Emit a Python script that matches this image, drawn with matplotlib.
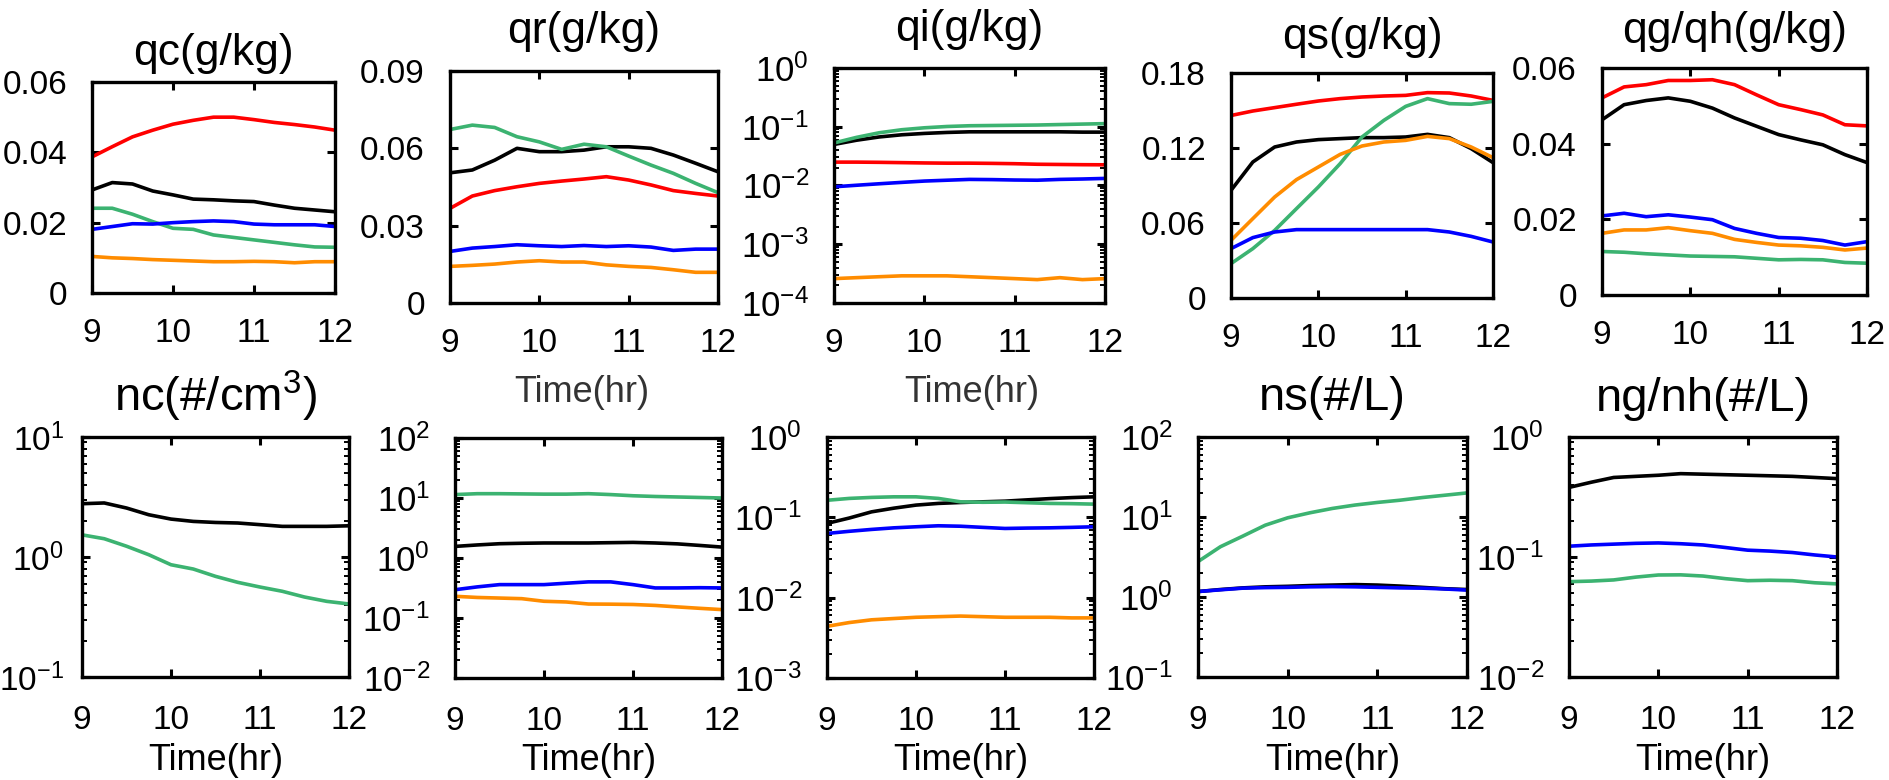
import matplotlib
matplotlib.use("Agg")
import matplotlib.pyplot as plt
from matplotlib.ticker import LogLocator, NullFormatter

plt.rcParams['font.family'] = ['Liberation Sans', 'DejaVu Sans']
plt.rcParams['mathtext.fontset'] = 'custom'
plt.rcParams['mathtext.rm'] = 'Liberation Sans'
plt.rcParams['mathtext.it'] = 'Liberation Sans:italic'
plt.rcParams['mathtext.bf'] = 'Liberation Sans:bold'
plt.rcParams['axes.unicode_minus'] = False

# ---------------- data ----------------
time_hr = [9.0, 9.25, 9.5, 9.75, 10.0, 10.25, 10.5, 10.75, 11.0, 11.25, 11.5, 11.75, 12.0]
x_ticks = [9, 10, 11, 12]

# qc (g/kg)
qc_black = [0.0293, 0.0314, 0.0310, 0.0290, 0.0279, 0.0267, 0.0265, 0.0262, 0.0260, 0.0250, 0.0241, 0.0236, 0.0231]
qc_red = [0.0387, 0.0416, 0.0444, 0.0463, 0.0480, 0.0491, 0.0500, 0.0500, 0.0493, 0.0485, 0.0479, 0.0472, 0.0463]
qc_green = [0.0241, 0.0241, 0.0224, 0.0203, 0.0184, 0.0181, 0.0165, 0.0158, 0.0151, 0.0144, 0.0137, 0.0131, 0.0130]
qc_blue = [0.0181, 0.0189, 0.0197, 0.0196, 0.0200, 0.0203, 0.0205, 0.0203, 0.0196, 0.0194, 0.0194, 0.0194, 0.0189]
qc_orange = [0.0104, 0.0100, 0.0098, 0.0095, 0.0093, 0.0091, 0.0089, 0.0089, 0.0090, 0.0089, 0.0086, 0.0089, 0.0089]

# qr (g/kg)
qr_black = [0.0505, 0.0516, 0.0554, 0.0600, 0.0587, 0.0587, 0.0593, 0.0606, 0.0606, 0.0600, 0.0574, 0.0542, 0.0509]
qr_red = [0.0367, 0.0415, 0.0436, 0.0451, 0.0464, 0.0473, 0.0481, 0.0490, 0.0477, 0.0458, 0.0436, 0.0425, 0.0415]
qr_green = [0.0673, 0.0690, 0.0681, 0.0645, 0.0625, 0.0596, 0.0616, 0.0606, 0.0570, 0.0535, 0.0503, 0.0464, 0.0428]
qr_blue = [0.0200, 0.0213, 0.0219, 0.0226, 0.0222, 0.0219, 0.0223, 0.0219, 0.0222, 0.0217, 0.0204, 0.0209, 0.0209]
qr_orange = [0.0142, 0.0146, 0.0151, 0.0159, 0.0164, 0.0159, 0.0159, 0.0148, 0.0142, 0.0138, 0.0129, 0.0119, 0.0119]

# qi (g/kg)
qi_black = [0.050, 0.059, 0.067, 0.073, 0.077, 0.080, 0.082, 0.082, 0.082, 0.082, 0.082, 0.081, 0.081]
qi_red = [0.025, 0.025, 0.0248, 0.0245, 0.0242, 0.024, 0.024, 0.0238, 0.0235, 0.023, 0.0228, 0.0226, 0.0225]
qi_green = [0.053, 0.066, 0.079, 0.089, 0.096, 0.101, 0.104, 0.105, 0.106, 0.107, 0.109, 0.111, 0.113]
qi_blue = [0.0095, 0.0101, 0.0107, 0.0113, 0.0119, 0.0123, 0.0127, 0.0126, 0.0124, 0.0123, 0.0127, 0.0129, 0.0132]
qi_orange = [0.00026, 0.00027, 0.00028, 0.00029, 0.00029, 0.00029, 0.00028, 0.00027, 0.00026, 0.00025, 0.00027, 0.00025, 0.00026]

# qs (g/kg)
qs_black = [0.0861, 0.1088, 0.1208, 0.1248, 0.1267, 0.1275, 0.1283, 0.1283, 0.1288, 0.1309, 0.1283, 0.1195, 0.1083]
qs_red = [0.1460, 0.1496, 0.1523, 0.1550, 0.1576, 0.1595, 0.1608, 0.1616, 0.1621, 0.1643, 0.1640, 0.1616, 0.1581]
qs_green = [0.0275, 0.0395, 0.0541, 0.0715, 0.0888, 0.1075, 0.1288, 0.1421, 0.1533, 0.1595, 0.1555, 0.1550, 0.1573]
qs_blue = [0.0395, 0.0483, 0.0528, 0.0547, 0.0547, 0.0547, 0.0547, 0.0547, 0.0547, 0.0547, 0.0528, 0.0493, 0.0448]
qs_orange = [0.0461, 0.0635, 0.0808, 0.0947, 0.1048, 0.1149, 0.1216, 0.1248, 0.1261, 0.1293, 0.1275, 0.1208, 0.1123]

# qg/qh (g/kg)
qg_black = [0.0463, 0.0503, 0.0514, 0.0521, 0.0512, 0.0494, 0.0468, 0.0446, 0.0424, 0.0410, 0.0397, 0.0371, 0.0350]
qg_red = [0.0521, 0.0550, 0.0556, 0.0567, 0.0567, 0.0569, 0.0556, 0.0529, 0.0503, 0.0490, 0.0476, 0.0450, 0.0447]
qg_green = [0.0115, 0.0113, 0.0109, 0.0106, 0.0103, 0.0102, 0.0101, 0.0097, 0.0093, 0.0094, 0.0093, 0.0086, 0.0084]
qg_blue = [0.0209, 0.0216, 0.0207, 0.0212, 0.0206, 0.0199, 0.0176, 0.0163, 0.0152, 0.0150, 0.0144, 0.0132, 0.0141]
qg_orange = [0.0163, 0.0172, 0.0172, 0.0178, 0.0170, 0.0163, 0.0147, 0.0139, 0.0132, 0.0130, 0.0126, 0.0119, 0.0124]

# nc (#/cm3)
nc_black = [2.78, 2.82, 2.56, 2.25, 2.07, 1.98, 1.94, 1.92, 1.86, 1.80, 1.80, 1.80, 1.82]
nc_green = [1.53, 1.42, 1.23, 1.045, 0.862, 0.794, 0.69, 0.615, 0.562, 0.518, 0.464, 0.427, 0.406]

# nr (#/L)
nr_black = [1.56, 1.65, 1.73, 1.76, 1.78, 1.78, 1.78, 1.80, 1.82, 1.78, 1.72, 1.62, 1.52]
nr_green = [11.4, 11.8, 11.8, 11.7, 11.6, 11.6, 11.8, 11.4, 10.9, 10.6, 10.4, 10.2, 10.0]
nr_blue = [0.296, 0.33, 0.36, 0.36, 0.36, 0.38, 0.40, 0.40, 0.36, 0.317, 0.317, 0.32, 0.317]
nr_orange = [0.23, 0.22, 0.215, 0.21, 0.19, 0.185, 0.171, 0.17, 0.168, 0.162, 0.153, 0.145, 0.138]

# ni (#/L)
ni_black = [0.084, 0.098, 0.117, 0.130, 0.142, 0.149, 0.153, 0.156, 0.159, 0.165, 0.171, 0.176, 0.18]
ni_green = [0.163, 0.172, 0.177, 0.18, 0.18, 0.172, 0.156, 0.154, 0.155, 0.152, 0.149, 0.148, 0.146]
ni_blue = [0.063, 0.067, 0.0707, 0.074, 0.0763, 0.0785, 0.0775, 0.075, 0.0727, 0.0735, 0.074, 0.075, 0.0763]
ni_orange = [0.0044, 0.0049, 0.0053, 0.0055, 0.0057, 0.0058, 0.0059, 0.0058, 0.0057, 0.0057, 0.0057, 0.0056, 0.0056]

# ns (#/L)
ns_black = [1.17, 1.24, 1.30, 1.34, 1.36, 1.39, 1.41, 1.43, 1.41, 1.37, 1.32, 1.27, 1.24]
ns_green = [2.77, 4.25, 5.77, 7.9, 9.77, 11.3, 12.8, 14.1, 15.2, 16.2, 17.5, 18.7, 20.0]
ns_blue = [1.17, 1.23, 1.29, 1.31, 1.32, 1.34, 1.35, 1.34, 1.32, 1.30, 1.29, 1.26, 1.22]

# ng/nh (#/L)
ng_black = [0.38, 0.42, 0.46, 0.47, 0.48, 0.495, 0.49, 0.485, 0.48, 0.475, 0.47, 0.46, 0.45]
ng_green = [0.0623, 0.063, 0.0644, 0.068, 0.0708, 0.071, 0.0694, 0.066, 0.0635, 0.064, 0.0635, 0.061, 0.0597]
ng_blue = [0.123, 0.126, 0.128, 0.130, 0.131, 0.129, 0.126, 0.120, 0.114, 0.112, 0.109, 0.104, 0.100]

# titles
top_titles = ["qc(g/kg)", "qr(g/kg)", "qi(g/kg)", "qs(g/kg)", "qg/qh(g/kg)"]
bottom_titles = ["nc(#/cm$^{\\mathregular{3}}$)", "", "", "ns(#/L)", "ng/nh(#/L)"]
x_label = "Time(hr)"

lin_ticks = {
    0: [0, 0.02, 0.04, 0.06],
    1: [0, 0.03, 0.06, 0.09],
    3: [0, 0.06, 0.12, 0.18],
    4: [0, 0.02, 0.04, 0.06],
}
lin_labels = {
    0: ["0", "0.02", "0.04", "0.06"],
    1: ["0", "0.03", "0.06", "0.09"],
    3: ["0", "0.06", "0.12", "0.18"],
    4: ["0", "0.02", "0.04", "0.06"],
}

C = {'black': '#000000', 'red': '#ff0000', 'green': '#3cb371',
     'blue': '#0000ff', 'orange': '#ff8c00'}

# ---------------- figure ----------------
W, H = 1890, 780
fig = plt.figure(figsize=(W / 100, H / 100), dpi=100)


def add_ax(x0, y0, x1, y1):
    return fig.add_axes([x0 / W, 1 - y1 / H, (x1 - x0) / W, (y1 - y0) / H])


top_boxes = [(92, 82, 335, 293), (450, 71, 718, 303), (834, 68, 1105, 303),
             (1231, 73, 1493, 298), (1602, 68, 1867, 295)]
bot_boxes = [(82, 437, 349, 677), (455, 438, 722, 678), (827, 437, 1094, 678),
             (1198, 437, 1467, 677), (1569, 437, 1837, 677)]
top_title_y = [53, 32, 30, 38, 32]
bot_title_y = [396, 396, 396, 398, 399]

top_series = [
    [('black', qc_black), ('red', qc_red), ('green', qc_green), ('blue', qc_blue), ('orange', qc_orange)],
    [('black', qr_black), ('red', qr_red), ('green', qr_green), ('blue', qr_blue), ('orange', qr_orange)],
    [('black', qi_black), ('red', qi_red), ('green', qi_green), ('blue', qi_blue), ('orange', qi_orange)],
    [('black', qs_black), ('red', qs_red), ('green', qs_green), ('blue', qs_blue), ('orange', qs_orange)],
    [('black', qg_black), ('red', qg_red), ('green', qg_green), ('blue', qg_blue), ('orange', qg_orange)],
]
bot_series = [
    [('black', nc_black), ('green', nc_green)],
    [('black', nr_black), ('green', nr_green), ('blue', nr_blue), ('orange', nr_orange)],
    [('black', ni_black), ('green', ni_green), ('blue', ni_blue), ('orange', ni_orange)],
    [('black', ns_black), ('green', ns_green), ('blue', ns_blue)],
    [('black', ng_black), ('green', ng_green), ('blue', ng_blue)],
]
top_log = {2: (1e-4, 1e0)}
bot_lims = [(1e-1, 1e1), (1e-2, 1e2), (1e-3, 1e0), (1e-1, 1e2), (1e-2, 1e0)]


def style(ax, lsize):
    for s in ax.spines.values():
        s.set_linewidth(2.4)
    ax.set_xlim(9, 12)
    ax.set_xticks(x_ticks)
    ax.tick_params(which='major', direction='in', top=True, right=True,
                   length=6, width=2.2, labelsize=lsize, pad=18)
    ax.tick_params(which='minor', direction='in', top=False, right=True,
                   length=3.5, width=1.4)
    ax.tick_params(axis='x', which='minor', bottom=False, top=False)


def log_y(ax, lims):
    ax.set_yscale('log')
    ax.set_ylim(*lims)
    ax.yaxis.set_major_locator(LogLocator(base=10, numticks=10))
    ax.yaxis.set_minor_locator(LogLocator(base=10, subs=range(2, 10), numticks=20))
    ax.yaxis.set_minor_formatter(NullFormatter())


for i, box in enumerate(top_boxes):
    ax = add_ax(*box)
    for cname, vals in top_series[i]:
        ax.plot(time_hr, vals, color=C[cname], lw=2.6)
    style(ax, 24)
    if i in top_log:
        log_y(ax, top_log[i])
        ax.tick_params(axis='y', labelsize=25)
    else:
        ax.set_ylim(lin_ticks[i][0], lin_ticks[i][-1])
        ax.set_yticks(lin_ticks[i])
        ax.set_yticklabels(lin_labels[i])
    cx = (box[0] + box[2]) / 2
    fig.text(cx / W, 1 - top_title_y[i] / H, top_titles[i], ha='center', va='center', fontsize=32)

for i, box in enumerate(bot_boxes):
    ax = add_ax(*box)
    for cname, vals in bot_series[i]:
        ax.plot(time_hr, vals, color=C[cname], lw=2.6)
    style(ax, 24)
    log_y(ax, bot_lims[i])
    if i == 0:
        ax.tick_params(axis='y', labelsize=24, pad=13)
    else:
        ax.tick_params(axis='y', labelsize=25, pad=18)
    ax.tick_params(axis='x', pad=20)
    cx = (box[0] + box[2]) / 2
    if bottom_titles[i]:
        fig.text(cx / W, 1 - bot_title_y[i] / H, bottom_titles[i], ha='center', va='center', fontsize=34)
    fig.text(cx / W, 1 - 760 / H, x_label, ha='center', va='center', fontsize=26)

# leftover axis labels of the top row (partially hidden in the original)
fig.text(582 / W, 1 - 393 / H, x_label, ha='center', va='center', fontsize=26, color='#333333')
fig.text(972 / W, 1 - 393 / H, x_label, ha='center', va='center', fontsize=26, color='#333333')

fig.savefig("out.png", dpi=100, facecolor='white')
